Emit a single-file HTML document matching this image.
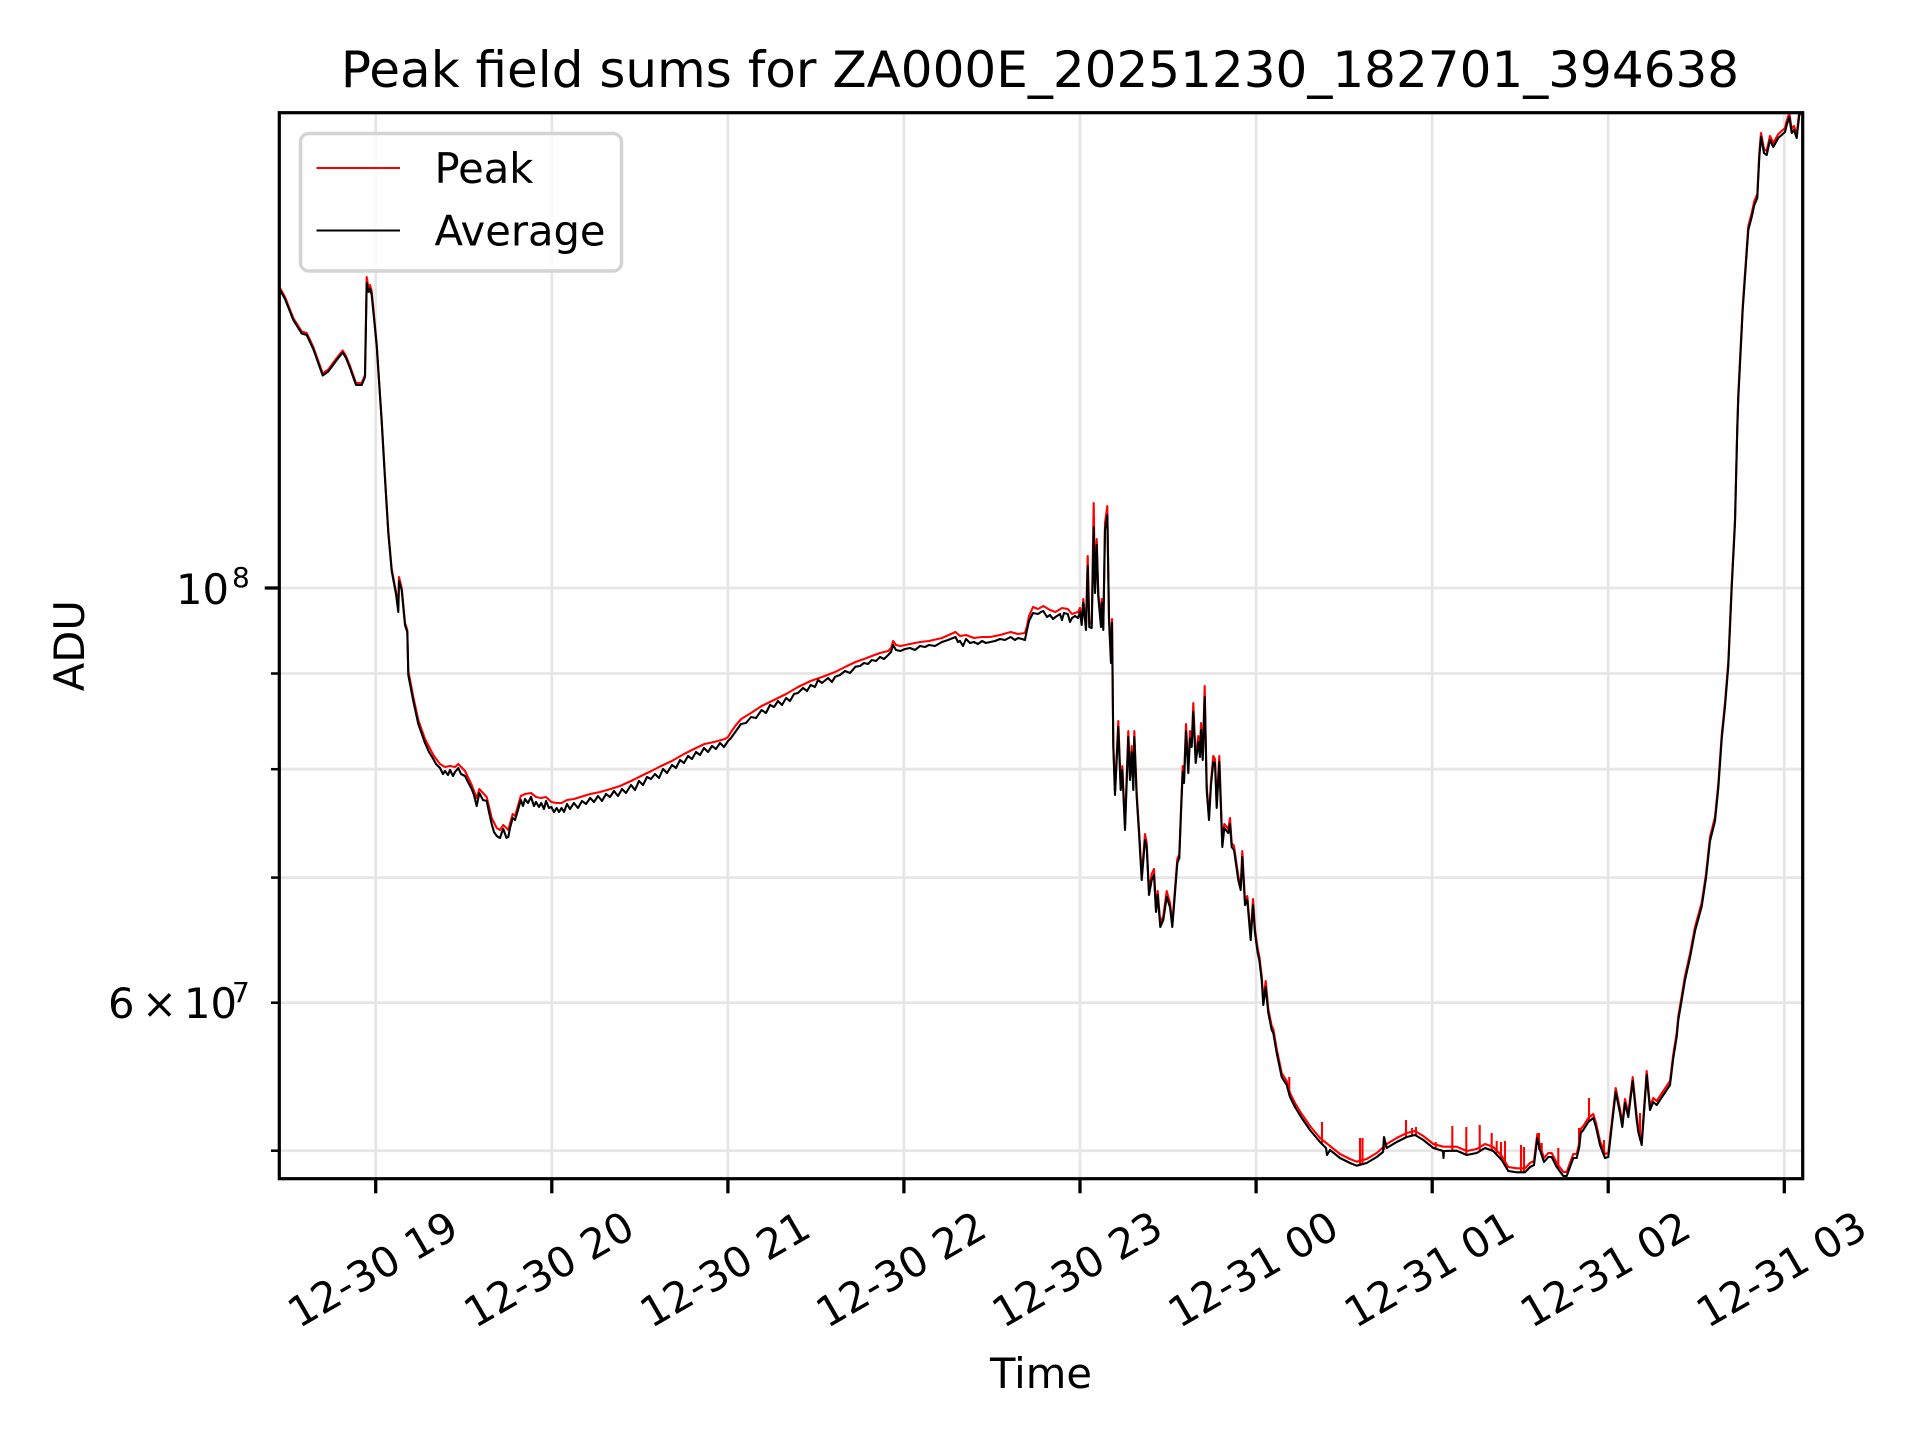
<!DOCTYPE html>
<html>
<head>
<meta charset="utf-8">
<style>
html,body{margin:0;padding:0;background:#fff;}
svg{display:block;}
text{font-family:"DejaVu Sans","Liberation Sans",sans-serif;fill:#000;}
</style>
</head>
<body>
<svg width="1920" height="1440" viewBox="0 0 1920 1440" xmlns="http://www.w3.org/2000/svg">
<defs>
<clipPath id="ax"><rect x="279.3" y="112.7" width="1523.4" height="1066"/></clipPath>
</defs>
<rect x="0" y="0" width="1920" height="1440" fill="#fff"/>

<!-- grid -->
<g stroke="#e6e6e6" stroke-width="2.8" fill="none">
<line x1="375.7" y1="112.7" x2="375.7" y2="1178.7"/>
<line x1="551.8" y1="112.7" x2="551.8" y2="1178.7"/>
<line x1="727.9" y1="112.7" x2="727.9" y2="1178.7"/>
<line x1="903.9" y1="112.7" x2="903.9" y2="1178.7"/>
<line x1="1080.0" y1="112.7" x2="1080.0" y2="1178.7"/>
<line x1="1256.1" y1="112.7" x2="1256.1" y2="1178.7"/>
<line x1="1432.2" y1="112.7" x2="1432.2" y2="1178.7"/>
<line x1="1608.2" y1="112.7" x2="1608.2" y2="1178.7"/>
<line x1="1784.3" y1="112.7" x2="1784.3" y2="1178.7"/>
<line x1="279.3" y1="588" x2="1802.7" y2="588"/>
<line x1="279.3" y1="673.5" x2="1802.7" y2="673.5"/>
<line x1="279.3" y1="769.2" x2="1802.7" y2="769.2"/>
<line x1="279.3" y1="877.6" x2="1802.7" y2="877.6"/>
<line x1="279.3" y1="1002.7" x2="1802.7" y2="1002.7"/>
<line x1="279.3" y1="1150.7" x2="1802.7" y2="1150.7"/>
</g>

<g clip-path="url(#ax)" fill="none" stroke-linejoin="round" stroke-width="2.1">
<!-- red (Peak) path -->
<g stroke="#ff0000" transform="translate(0,-2)">
<polyline points="280,290 285,299 293.3,320 301.7,333.5 306.7,335 313.3,349 322.7,375.5 328.3,371.5 336.7,360 342.7,352.5 346,358 350,368 356,385 361.7,385 365,377 366.7,279 368.5,290 370,287 371.7,293 376.7,346 381.7,422 385,479 388.3,533 391.7,571 396,594 398.3,608 399,579 401.7,590 405,625 407.3,632 408.3,673 413.3,699 418.3,722 425,741 433.3,757 440,766 445,769 450,768 455,769 458.3,766 465,773 471.7,787 476.7,800 479.3,791 486.7,799 491.7,820 496.7,830 500,832 503.3,827 506.5,830 508.3,832 512.7,816 515,818 520.8,798 525,796 531,795 536,799 541.2,800 546,799 551.4,804 556.7,805 561.6,805 567,802 573.9,801 590.2,796 600,794 610.6,791 620,788 631,783 641,778 651.4,773 661,768 671.8,763 684,756 694,751 704.5,746 714,744 724.9,741 728,739 731,734 736,727 741.2,721 751,715 761.6,708 774,702 786.1,696 798,689 810.6,683 822,679 835.1,674 845,669 855.5,664 864,661 871.8,658 880,655 888.2,653 891,650 893.1,643 896,647 900.4,648 910,646 920,644 929,643 942,640 955.5,634 960,638 966,637 973.9,640 982,639 990.2,639 1000,637 1010.6,634 1018,636 1024.9,635 1027,628 1029,618 1033,609 1038,611 1043.3,608 1050,612 1055.5,614 1062,610 1067.8,611 1072,616 1078,614 1080,610 1081.7,623 1083.3,601 1086,628 1087.7,558 1089.3,625 1091.7,626 1093.7,505 1095,591 1096.7,541 1098.3,595 1101,625 1101.7,601 1103.3,628 1105,525 1107.3,508 1109,618 1111,661 1112,621 1113.3,745 1115,793 1118.3,723 1120.7,788 1122.3,768 1125,828 1128.3,733 1130,778 1131.7,748 1133.3,788 1134.3,733 1136.7,795 1139,831 1141.7,878 1145,836 1146.7,845 1149,893 1151.7,876 1154,871 1156,910 1157.7,893 1160.3,925 1163.3,918 1166.7,893 1170,905 1172.3,925 1175,891 1177.3,861 1179.3,856 1181,811 1182.7,768 1184,781 1186,726 1188.3,771 1190,733 1191.7,745 1193.3,705 1195.7,761 1198.3,738 1200,755 1201,725 1202.7,758 1204.7,688 1206.7,788 1209,818 1211,783 1213.3,758 1215,761 1216.7,806 1219.3,758 1222.3,845 1224.3,826 1228.3,831 1230,820 1231.7,845 1234,848 1238.3,878 1240.7,888 1242.3,853 1245,903 1247.3,898 1250.7,938 1253,901 1255,931 1257.7,951 1259.3,958 1261.7,978 1263.3,1003 1265.7,983 1268.3,1011 1271.7,1028 1273.3,1031 1276.7,1051 1281.7,1075 1286.7,1083 1290,1095 1295,1105 1301.7,1116 1310,1128 1320,1140 1330,1148 1340,1156 1350,1161 1356.7,1163.7 1366.7,1161 1376.7,1155 1386.7,1146 1396.7,1140 1406.7,1135 1415,1133 1423.3,1138 1433.3,1146 1443.3,1148.7 1456.7,1148.7 1466.7,1153 1476.7,1151 1485,1146 1493.3,1149 1501.7,1158 1508.3,1169 1516.7,1170.3 1525,1170.3 1530,1165 1534,1163 1537.3,1136 1540,1148 1544,1160 1548.3,1155 1551.7,1155 1556.7,1165 1563.3,1174 1566.7,1174 1570,1165 1573.3,1156 1576.7,1156 1579.3,1145 1580.7,1131 1583.3,1128 1588.3,1120 1593.3,1116 1596,1125 1600,1143 1605,1156 1608.3,1155 1611.7,1125 1615.7,1090 1620,1111 1622.3,1125 1625,1101 1628.3,1115 1632.7,1079 1636.7,1118 1638.3,1130 1641.7,1143 1646.7,1073 1650,1108 1653.3,1100 1656.7,1103 1663.3,1093 1670,1083 1673.3,1056 1676.7,1035 1678.3,1018 1681.7,998 1685,978 1690,955.6 1695,929 1701.7,904.5 1706,876 1710,839 1715,819 1718.3,786 1721.7,737 1725,704.5 1728.3,664 1731.7,586 1735,521 1737.3,427 1738.3,396 1742.7,308 1748.3,228 1751.7,215 1754.3,203 1757.3,196 1759.3,155 1761,135 1764,151 1766.7,153 1770,138 1773.3,145 1778.3,136 1785,130 1786.7,123 1789.3,115 1791.7,131 1794,128 1796.7,136 1799.3,113 1801,111"/>
</g>
<!-- red spikes -->
<g stroke="#ff0000">
<line x1="1289.3" y1="1095" x2="1289.3" y2="1077"/>
<line x1="1322" y1="1143" x2="1322" y2="1122"/>
<line x1="1360" y1="1165" x2="1360" y2="1138"/>
<line x1="1362.5" y1="1165" x2="1362.5" y2="1138"/>
<line x1="1384" y1="1150" x2="1384" y2="1137"/>
<line x1="1406" y1="1137" x2="1406" y2="1120"/>
<line x1="1412" y1="1135" x2="1412" y2="1128"/>
<line x1="1416" y1="1135" x2="1416" y2="1127"/>
<line x1="1435.7" y1="1149" x2="1435.7" y2="1142"/>
<line x1="1452.3" y1="1151" x2="1452.3" y2="1126"/>
<line x1="1466.3" y1="1155" x2="1466.3" y2="1127"/>
<line x1="1479.7" y1="1152" x2="1479.7" y2="1125"/>
<line x1="1491.7" y1="1150" x2="1491.7" y2="1133"/>
<line x1="1496.7" y1="1153" x2="1496.7" y2="1141"/>
<line x1="1501" y1="1160" x2="1501" y2="1142"/>
<line x1="1505" y1="1166" x2="1505" y2="1141"/>
<line x1="1521" y1="1172" x2="1521" y2="1145"/>
<line x1="1524" y1="1172" x2="1524" y2="1147"/>
<line x1="1539" y1="1150" x2="1539" y2="1133"/>
<line x1="1541.7" y1="1155" x2="1541.7" y2="1143"/>
<line x1="1558.3" y1="1169" x2="1558.3" y2="1148"/>
<line x1="1579" y1="1147" x2="1579" y2="1128"/>
<line x1="1589" y1="1122" x2="1589" y2="1098"/>
<line x1="1604" y1="1155" x2="1604" y2="1140"/>
<line x1="1640" y1="1140" x2="1640" y2="1113"/>
</g>
<!-- black (Average) path -->
<polyline stroke="#000000" points="280,290 285,299 293.3,320 301.7,333.5 306.7,335 313.3,349 322.7,375.5 328.3,371.5 336.7,360 342.7,352.5 346,358 350,368 356,385 361.7,385 365,377 366.7,283 368.5,292 370,289 371.7,295 376.7,346 381.7,422 385,479 388.3,533 391.7,571 396,594 398.3,612 399,581 401.7,590 405,625 407.3,632 408.3,675 413.3,701 418.3,724 425,743 429,752 433.3,759 436,764 440,768 443,774 445,771 448,775 450,770 453,776 455,772 458.3,768 461,774 465,776 468,782 471.7,789 474,795 476.7,806 479.3,793 483,800 486.7,801 489,812 491.7,824 494,832 496.7,836 500,838 502,832 503.3,829 506.5,838 508.3,837 510,828 512.7,818 515,820 518,810 520.8,800 523,806 525,799 528,803 531,797 534,806 536,802 539,807 541.2,803 544,809 546,801 549,808 551.4,807 554,812 556.7,808 559,812 561.6,808 564,812 567,804 570,809 573.9,803 578,808 582,801 586,804 590.2,798 594,802 598,796 602,801 606,794 610,797 614,791 618,796 622,789 626,793 631,785 635,790 639,781 643,785 647,777 651,779 655,774 659,778 663,769 667,773 672,765 676,768 680,760 684,763 688,756 692,759 696,752 700,755 704,748 708,752 712,746 716,749 720,743 724,747 728,741 731,738 736,731 741,724 746,723 751,717 756,718 761.6,710 766,713 770,705 774,707 778,701 782,705 786.1,698 790,701 794,694 798,693 803,688 807,691 810.6,685 815,687 818,680 822,683 828,678 832,682 835.1,676.7 840,675 845,671 850,673 855.5,666.7 860,666 864,663 868,664 871.8,660 876,661 880,657 884,659 888.2,655 891,652 893.1,645 896,650 900.4,651 905,649 910,648 915,650 920,646 925,647 929,645 935,646 942,642 948,640 955.5,637 958,642 960,641 963,646 966,639 970,643 973.9,642 978,644 982,641 986,643 990.2,642 995,641 1000,639 1005,640 1010.6,637 1015,640 1018,638 1022,639 1024.9,640 1027,630 1029,621 1033,613 1038,614 1041,612 1043.3,611 1047,617 1050,615 1053,619 1055.5,617 1060,614 1062,620 1064,613 1067.8,614 1070,622 1072,618 1075,616 1078,618 1080,612 1081.7,625 1083.3,603 1086,630 1087.7,566 1089.3,627 1091.7,628 1093.7,527 1095,593 1096.7,545 1098.3,597 1101,627 1101.7,603 1103.3,630 1105,530 1107.3,515 1109,620 1111,663 1112,623 1113.3,747 1115,795 1118.3,727 1120.7,790 1122.3,770 1125,830 1128.3,737 1130,780 1131.7,752 1133.3,790 1134.3,737 1136.7,797 1139,833 1141.7,880 1145,840 1146.7,847 1149,895 1151.7,880 1154,875 1156,912 1157.7,895 1160.3,927 1163.3,920 1166.7,897 1170,907 1172.3,927 1175,893 1177.3,863 1179.3,858 1181,813 1182.7,772 1184,783 1186,731 1188.3,773 1190,738 1191.7,747 1193.3,712 1195.7,763 1198.3,742 1200,757 1201,730 1202.7,760 1204.7,697 1206.7,790 1209,820 1211,785 1213.3,762 1215,763 1216.7,808 1219.3,762 1222.3,847 1224.3,828 1228.3,833 1230,824 1231.7,847 1234,850 1238.3,880 1240.7,890 1242.3,857 1245,905 1247.3,900 1250.7,940 1253,905 1255,933 1257.7,953 1259.3,960 1261.7,980 1263.3,1005 1265.7,987 1268.3,1013 1271.7,1030 1273.3,1033 1276.7,1053 1281.7,1077 1286.7,1085 1290,1097 1295,1107 1301.7,1118 1310,1130 1320,1142 1326,1148 1327,1155 1330,1150 1340,1158 1350,1163 1356.7,1165.7 1366.7,1163 1376.7,1157 1383,1152 1384,1137 1386.7,1148 1396.7,1142 1406.7,1137 1415,1135 1423.3,1140 1433.3,1148 1443,1151 1443.5,1158 1444,1151 1456.7,1150.7 1466.7,1155 1476.7,1153 1485,1148 1493.3,1151 1501.7,1160 1508.3,1171 1516.7,1172.3 1525,1172.3 1530,1167 1534,1165 1537.3,1138 1540,1150 1544,1162 1548.3,1157 1551.7,1157 1556.7,1167 1563.3,1176 1566.7,1176 1570,1167 1573.3,1158 1576.7,1158 1579.3,1147 1580.7,1133 1583.3,1130 1588.3,1122 1593.3,1118 1596,1127 1600,1145 1605,1158 1608.3,1157 1611.7,1127 1615.7,1092 1620,1113 1622.3,1127 1625,1103 1628.3,1117 1632.7,1081 1636.7,1120 1638.3,1132 1641.7,1145 1646.7,1075 1650,1110 1653.3,1102 1656.7,1105 1663.3,1095 1670,1085 1673.3,1058 1676.7,1037 1678.3,1020 1681.7,1000 1685,980 1690,957.6 1695,931 1701.7,906.5 1706,878 1710,841 1715,821 1718.3,788 1721.7,739 1725,706.5 1728.3,666 1731.7,588 1735,523 1737.3,429 1738.3,398 1742.7,310 1748.3,230 1751.7,217 1754.3,205 1757.3,198 1759.3,157 1761,137 1764,153 1766.7,155 1770,140 1773.3,147 1778.3,138 1785,132 1786.7,125 1789.3,117 1791.7,133 1794,130 1796.7,138 1799.3,115 1801,113"/>
</g>

<!-- spines -->
<rect x="279.3" y="112.7" width="1523.4" height="1066" fill="none" stroke="#000" stroke-width="3.2"/>

<!-- ticks -->
<g stroke="#000" stroke-width="3.3">
<line x1="375.7" y1="1178.7" x2="375.7" y2="1193.3"/>
<line x1="551.8" y1="1178.7" x2="551.8" y2="1193.3"/>
<line x1="727.9" y1="1178.7" x2="727.9" y2="1193.3"/>
<line x1="903.9" y1="1178.7" x2="903.9" y2="1193.3"/>
<line x1="1080.0" y1="1178.7" x2="1080.0" y2="1193.3"/>
<line x1="1256.1" y1="1178.7" x2="1256.1" y2="1193.3"/>
<line x1="1432.2" y1="1178.7" x2="1432.2" y2="1193.3"/>
<line x1="1608.2" y1="1178.7" x2="1608.2" y2="1193.3"/>
<line x1="1784.3" y1="1178.7" x2="1784.3" y2="1193.3"/>
<line x1="264.7" y1="588" x2="279.3" y2="588"/>
</g>
<g stroke="#000" stroke-width="2.5">
<line x1="271" y1="673.5" x2="279.3" y2="673.5"/>
<line x1="271" y1="769.2" x2="279.3" y2="769.2"/>
<line x1="271" y1="877.6" x2="279.3" y2="877.6"/>
<line x1="271" y1="1002.7" x2="279.3" y2="1002.7"/>
<line x1="271" y1="1150.7" x2="279.3" y2="1150.7"/>
</g>

<!-- x tick labels -->
<g font-size="41.67" text-anchor="middle">
<text transform="translate(372.5,1269) rotate(-30)" x="0" y="15">12-30 19</text>
<text transform="translate(548.6,1269) rotate(-30)" x="0" y="15">12-30 20</text>
<text transform="translate(724.7,1269) rotate(-30)" x="0" y="15">12-30 21</text>
<text transform="translate(900.7,1269) rotate(-30)" x="0" y="15">12-30 22</text>
<text transform="translate(1076.8,1269) rotate(-30)" x="0" y="15">12-30 23</text>
<text transform="translate(1252.9,1269) rotate(-30)" x="0" y="15">12-31 00</text>
<text transform="translate(1429.0,1269) rotate(-30)" x="0" y="15">12-31 01</text>
<text transform="translate(1605.0,1269) rotate(-30)" x="0" y="15">12-31 02</text>
<text transform="translate(1781.1,1269) rotate(-30)" x="0" y="15">12-31 03</text>
</g>

<!-- y tick labels -->
<text x="176" y="604" font-size="41.67">10</text>
<text x="232" y="587" font-size="28">8</text>
<text x="108" y="1018" font-size="41.67">6</text>
<text x="142" y="1018" font-size="41.67">×</text>
<text x="184" y="1018" font-size="41.67">10</text>
<text x="232" y="1002" font-size="28">7</text>

<!-- axis labels -->
<text x="1041" y="1388" font-size="41.67" text-anchor="middle">Time</text>
<text transform="translate(84,645.7) rotate(-90)" x="0" y="0" font-size="41.67" text-anchor="middle">ADU</text>

<!-- title -->
<text x="1040" y="87" font-size="50" text-anchor="middle">Peak field sums for ZA000E_20251230_182701_394638</text>

<!-- legend -->
<rect x="300.5" y="133.5" width="321" height="137.5" rx="8.3" ry="8.3" fill="#ffffff" fill-opacity="0.8" stroke="#d4d4d4" stroke-width="3.5"/>
<line x1="316.5" y1="168" x2="400" y2="168" stroke="#ff0000" stroke-width="2.1"/>
<line x1="316.5" y1="230.5" x2="400" y2="230.5" stroke="#000000" stroke-width="2.1"/>
<text x="434.5" y="183" font-size="41.67">Peak</text>
<text x="434.5" y="245.5" font-size="41.67">Average</text>
</svg>
</body>
</html>
